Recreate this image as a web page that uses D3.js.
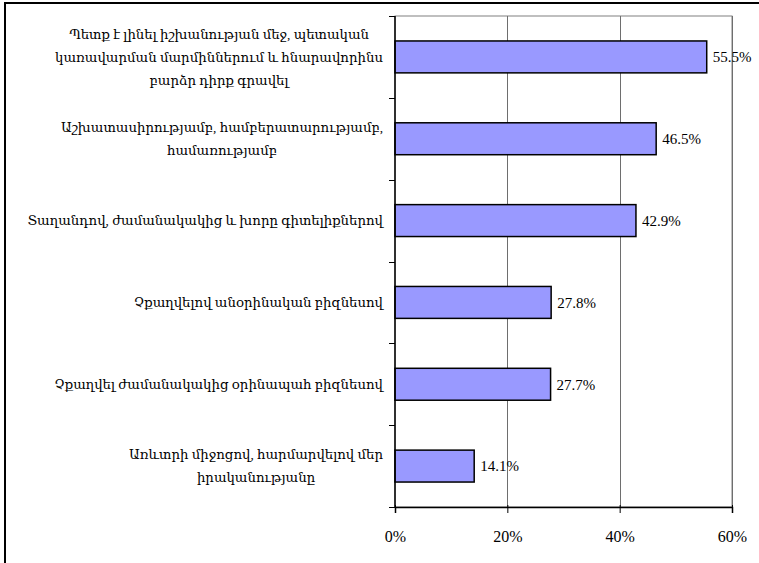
<!DOCTYPE html>
<html>
<head>
<meta charset="utf-8">
<script src="https://cdn.jsdelivr.net/npm/d3@7"></script>
<style>
  html, body { margin: 0; padding: 0; background: #fff; }
  svg { display: block; }
</style>
</head>
<body>
<svg id="chart" width="759" height="563"></svg>
<script>
// Answer categories (each inner array is one wrapped label, line by line)
const categories = [
  ["Պետք է լինել իշխանության մեջ, պետական", "կառավարման մարմիններում և հնարավորինս", "բարձր դիրք գրավել"],
  ["Աշխատասիրությամբ, համբերատարությամբ,", "համառությամբ"],
  ["Տաղանդով, ժամանակակից և խորը գիտելիքներով"],
  ["Չքաղվելով անօրինական բիզնեսով"],
  ["Չքաղվել ժամանակակից օրինապահ բիզնեսով"],
  ["Առևտրի միջոցով, հարմարվելով մեր", "իրականությանը"]
];
// Share of respondents, percent
const values = [55.5, 46.5, 42.9, 27.8, 27.7, 14.1];
// X axis ticks
const xTicks = [0, 20, 40, 60];

const svg = d3.select("#chart");
const serif = "'Liberation Serif', 'DejaVu Serif', 'Times New Roman', serif";

// chart frame
svg.append("rect")
  .attr("x", 5).attr("y", 3).attr("width", 770).attr("height", 580)
  .attr("fill", "#fff").attr("stroke", "#000").attr("stroke-width", 2);

const plot = { left: 395, right: 732, top: 16, bottom: 507 };

const x = d3.scaleLinear().domain([0, 60]).range([plot.left, plot.right]);
const y = d3.scaleBand()
  .domain(d3.range(categories.length))
  .range([plot.top, plot.bottom])
  .paddingInner(0.61).paddingOuter(0.305);
const band = d3.scaleBand()
  .domain(d3.range(categories.length))
  .range([plot.top, plot.bottom]);

// plot area border
svg.append("rect")
  .attr("x", plot.left).attr("y", plot.top)
  .attr("width", plot.right - plot.left).attr("height", plot.bottom - plot.top)
  .attr("fill", "none").attr("stroke", "#808080").attr("stroke-width", 1);

// vertical gridlines
svg.append("g")
  .selectAll("line")
  .data(xTicks.filter(d => d > 0))
  .join("line")
  .attr("x1", d => Math.round(x(d)) + 0.5).attr("x2", d => Math.round(x(d)) + 0.5)
  .attr("y1", plot.top).attr("y2", plot.bottom)
  .attr("stroke", "#6e6e6e").attr("stroke-width", 1);

// bars
svg.append("g")
  .selectAll("rect")
  .data(values)
  .join("rect")
  .attr("x", x(0))
  .attr("y", (d, i) => y(i))
  .attr("width", d => x(d) - x(0))
  .attr("height", y.bandwidth())
  .attr("fill", "#9999ff")
  .attr("stroke", "#000")
  .attr("stroke-width", 1.5);

// value labels
svg.append("g")
  .selectAll("text")
  .data(values)
  .join("text")
  .attr("x", d => x(d) + 6)
  .attr("y", (d, i) => y(i) + y.bandwidth() / 2)
  .attr("dy", "0.35em")
  .attr("font-family", serif)
  .attr("font-size", 15)
  .attr("fill", "#000")
  .text(d => d.toFixed(1) + "%");

// x axis
const xAxis = d3.axisBottom(x)
  .tickValues(xTicks)
  .tickFormat(d => d + "%")
  .tickSize(6)
  .tickPadding(18);
const gx = svg.append("g")
  .attr("transform", `translate(0,${plot.bottom})`)
  .call(xAxis);
gx.select(".domain").attr("stroke", "#000").attr("stroke-width", 1.5);
gx.selectAll(".tick line").attr("stroke", "#000").attr("y1", -2);
gx.selectAll(".tick text")
  .attr("font-family", serif).attr("font-size", 16).attr("fill", "#000");

// y axis: line with ticks at category boundaries
const boundaries = d3.range(categories.length + 1).map(i =>
  i < categories.length ? band(i) : plot.bottom);
svg.append("line")
  .attr("x1", plot.left).attr("x2", plot.left)
  .attr("y1", plot.top).attr("y2", plot.bottom)
  .attr("stroke", "#000").attr("stroke-width", 1.5);
svg.append("g")
  .selectAll("line")
  .data(boundaries)
  .join("line")
  .attr("x1", plot.left - 6).attr("x2", plot.left)
  .attr("y1", d => Math.round(d) + 0.5).attr("y2", d => Math.round(d) + 0.5)
  .attr("stroke", "#000").attr("stroke-width", 1);

// category labels: wrapped lines centred on each other, block right-aligned
const labelRight = 383;
const lineH = 23;
const lg = svg.append("g");
categories.forEach((lines, i) => {
  const cy = band(i) + band.bandwidth() / 2;
  const t = lg.append("text")
    .attr("font-family", serif)
    .attr("font-size", 13.3)
    .attr("fill", "#000")
    .attr("text-anchor", "middle");
  const spans = lines.map((s, k) =>
    t.append("tspan")
      .attr("y", cy + (k - (lines.length - 1) / 2) * lineH)
      .attr("dy", "0.35em")
      .text(s));
  const w = d3.max(spans, sp => sp.node().getComputedTextLength());
  spans.forEach(sp => sp.attr("x", labelRight - w / 2));
});
</script>
</body>
</html>
